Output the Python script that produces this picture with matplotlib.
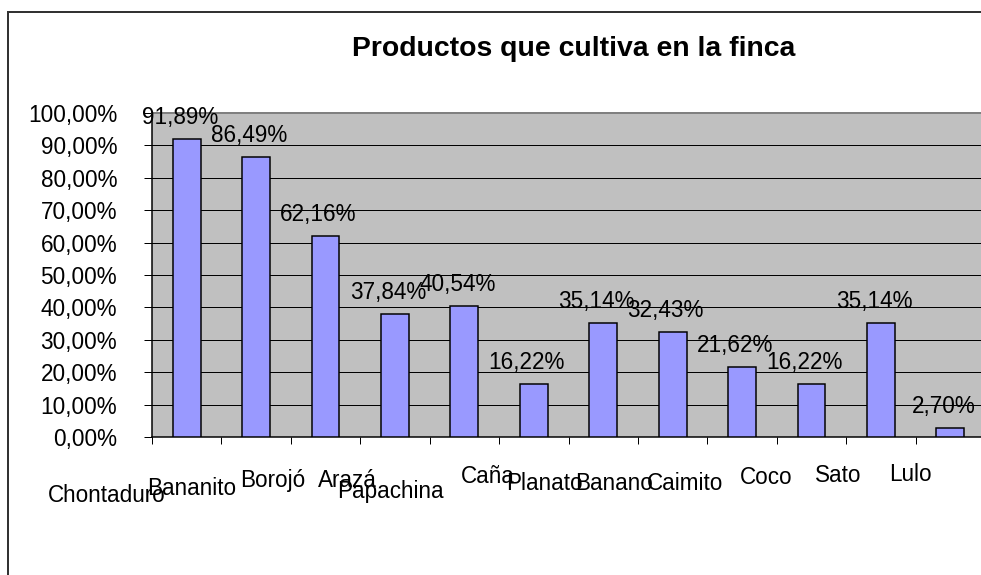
import matplotlib
matplotlib.use('Agg')
import matplotlib.pyplot as plt
from matplotlib.lines import Line2D
import numpy as np

plt.rcParams['font.family'] = ['Liberation Sans', 'DejaVu Sans']

# ---- data ----
categorias = ['Chontaduro', 'Bananito', 'Borojó', 'Arazá', 'Papachina', 'Caña',
              'Planato', 'Banano', 'Caimito', 'Coco', 'Sato', 'Lulo']
porcentajes = [91.89, 86.49, 62.16, 37.84, 40.54, 16.22, 35.14, 32.43, 21.62, 16.22, 35.14, 2.70]
y_ticks = [0, 10, 20, 30, 40, 50, 60, 70, 80, 90, 100]
titulo = 'Productos que cultiva en la finca'

# ---- layout of the category labels as rendered (px offsets) ----
label_dx = [-80, -64, -53, -48, -74, -46, -59, -59, -57, -45, -43, -40]
label_dy = [65, 58, 50, 50, 61, 46, 53, 53, 53, 47, 45, 44]

def fmt(v):
    return f"{v:.2f}".replace('.', ',') + '%'

W, H, DPI = 981, 575, 72
fig = plt.figure(figsize=(W / DPI, H / DPI), dpi=DPI)
fig.patch.set_facecolor('white')
ax = fig.add_axes([152 / W, (H - 437) / H, (985 - 152) / W, (437 - 113) / H])

x = np.arange(len(categorias)) + 0.5
ax.bar(x, porcentajes, width=0.4, color='#9999FF', edgecolor='black', linewidth=1.5, zorder=3)
ax.set_xlim(0, len(categorias))
ax.set_ylim(0, 100)
ax.set_facecolor('#C0C0C0')
ax.set_axisbelow(True)
ax.yaxis.grid(True, color='black', linewidth=1)

ax.set_xticks(np.arange(len(categorias) + 1))
ax.set_xticklabels([])
ax.tick_params(axis='x', direction='out', length=7, width=1, color='black')
ax.set_yticks(y_ticks)
ax.set_yticklabels([fmt(t) for t in y_ticks])
ax.tick_params(axis='y', direction='out', length=8, width=1, pad=27, labelsize=22.5)

ax.spines['top'].set_color('#808080')
ax.spines['top'].set_linewidth(2)
ax.spines['right'].set_visible(False)
ax.spines['left'].set_color('black')
ax.spines['left'].set_linewidth(1.5)
ax.spines['bottom'].set_color('black')
ax.spines['bottom'].set_linewidth(1.5)

for xi, v in zip(x, porcentajes):
    ax.annotate(fmt(v), xy=(xi, v), xytext=(-7, 15), textcoords='offset points',
                ha='center', va='baseline', fontsize=22.5, zorder=5, annotation_clip=False)

for xi, c, dx, dy in zip(x, categorias, label_dx, label_dy):
    ax.annotate(c, xy=(xi, 0), xycoords=('data', 'axes fraction'), xytext=(dx, -dy),
                textcoords='offset points', ha='center', va='baseline', fontsize=22.5,
                annotation_clip=False)

fig.text(573.5 / W, 1 - 56 / H, titulo, ha='center', va='baseline',
         fontsize=28.4, fontweight='bold')

fig.add_artist(Line2D([8 / W, 8 / W], [0, 1 - 12 / H], color='#333333', lw=2))
fig.add_artist(Line2D([8 / W, 1], [1 - 12 / H, 1 - 12 / H], color='#333333', lw=2))

fig.savefig('out.png', dpi=DPI)
